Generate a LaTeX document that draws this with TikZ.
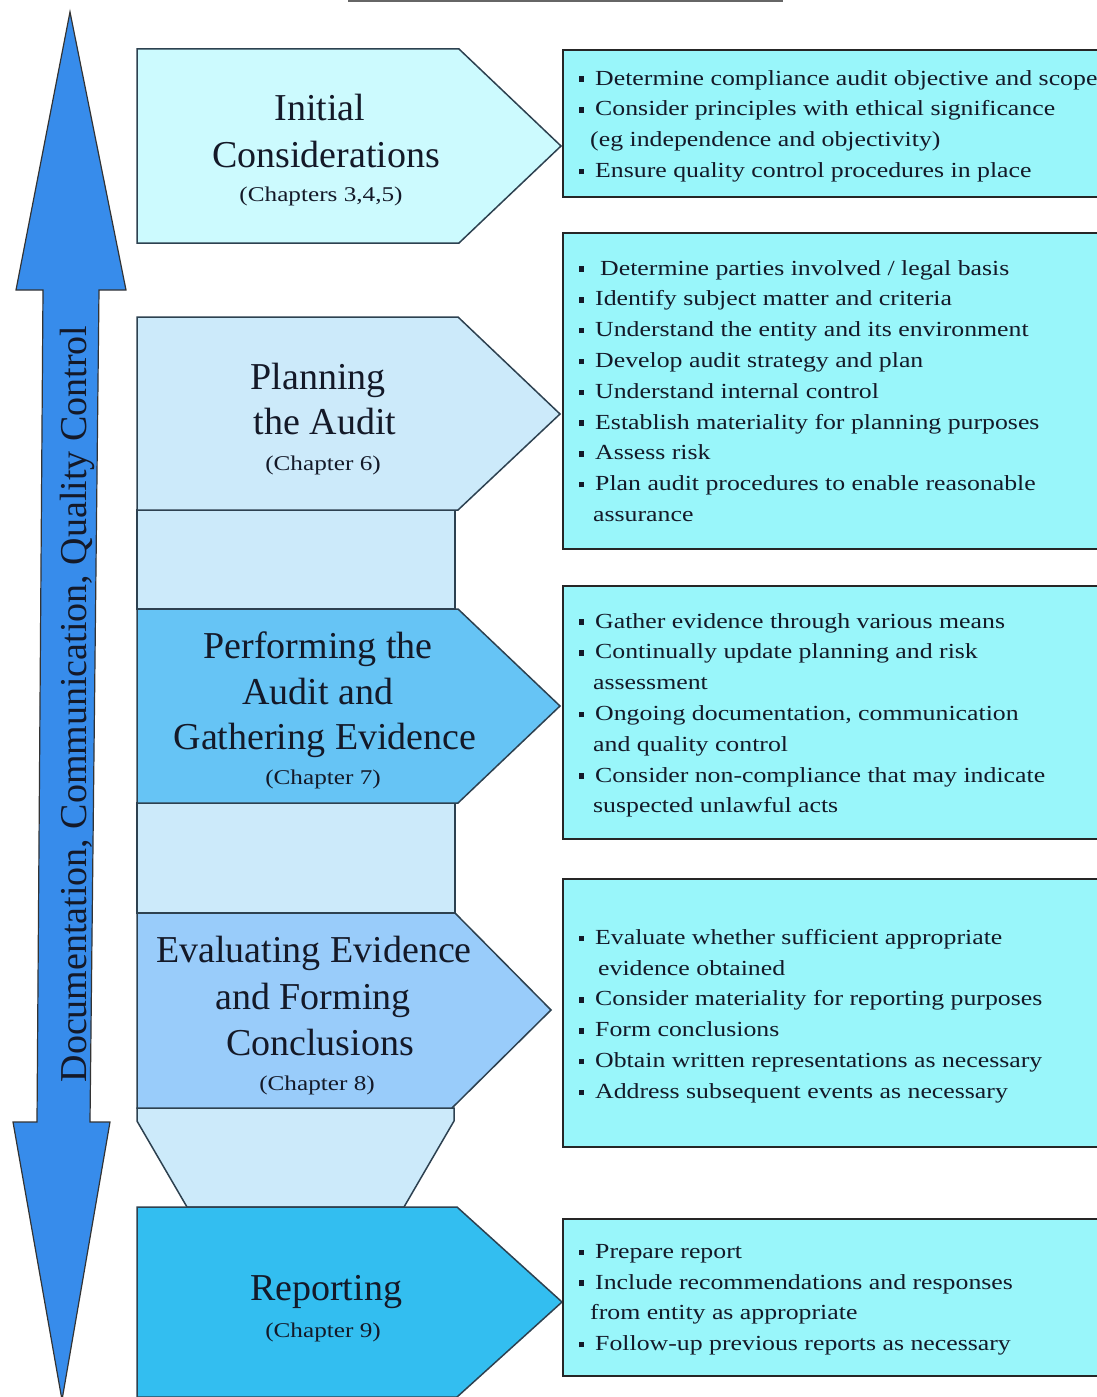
\documentclass[tikz,border=0pt]{standalone}
\usepackage{fontspec}
\setmainfont{Liberation Serif}
\newfontfamily\bodyfont[FakeStretch=1.2]{Liberation Serif}
\usetikzlibrary{calc}
\definecolor{initc}{RGB}{204,250,254}
\definecolor{planc}{RGB}{204,234,250}
\definecolor{perfc}{RGB}{102,196,245}
\definecolor{evalc}{RGB}{153,204,250}
\definecolor{repc}{RGB}{51,190,240}
\definecolor{boxc}{RGB}{153,246,250}
\definecolor{arrc}{RGB}{55,140,235}
\definecolor{edgec}{RGB}{45,65,80}
\definecolor{txtc}{RGB}{20,25,40}
\newcommand\bi{\makebox[18pt][l]{\hspace{2pt}\rule[0.15em]{4.5pt}{5.5pt}}}
\tikzset{
  stage/.style={draw=edgec, line width=1.5pt, line join=miter},
  infobox/.style={draw=black!85, line width=2pt, fill=boxc, rectangle, inner sep=0pt, anchor=north west},
  head/.style={font=\fontsize{38}{47}\selectfont, text=txtc, anchor=base, inner sep=0pt},
  chap/.style={font=\bodyfont\fontsize{21}{25}\selectfont, text=txtc, anchor=base, inner sep=0pt},
  blist/.style={font=\bodyfont\fontsize{21.5}{30.8}\selectfont, text=txtc, align=left, anchor=north west, inner sep=0pt}
}
\begin{document}
\begin{tikzpicture}[x=1pt,y=-1pt]
\useasboundingbox (0,0) rectangle (1097,1397);
\clip (0,0) rectangle (1097,1397);
\fill[white] (0,0) rectangle (1097,1397);
% cut-off title underline
\draw[black!60, line width=3pt] (348,0.5) -- (783,0.5);

% left double arrow
\draw[fill=arrc, draw=black!80, line width=1.2pt, line join=miter]
  (70,12) -- (126,290) -- (99,290) -- (90,1122) -- (110,1122) -- (62,1400)
  -- (13,1122) -- (37,1122) -- (43,290) -- (16,290) -- cycle;
\node[rotate=90, anchor=base, inner sep=0pt, text=txtc, font=\fontsize{38}{40}\selectfont] (side) at (86,704)
  {Documentation, Communication, Quality Control};

% connectors between stages
\draw[stage, fill=planc] (137,510) rectangle (455,609);
\draw[stage, fill=planc] (137,803) rectangle (455,913);
\draw[stage, fill=planc] (137,1108) -- (454,1108) -- (454,1121) -- (404,1207) -- (187,1207) -- (137,1121) -- cycle;

% stages
\draw[stage, fill=initc] (137,49) -- (459,49) -- (561,146) -- (459,243) -- (137,243) -- cycle;
\draw[stage, fill=planc] (137,317) -- (458,317) -- (560,414) -- (458,510) -- (137,510) -- cycle;
\draw[stage, fill=perfc] (137,609) -- (458,609) -- (560,706) -- (458,803) -- (137,803) -- cycle;
\draw[stage, fill=evalc] (137,913) -- (455,913) -- (551,1010) -- (452,1108) -- (137,1108) -- cycle;
\draw[stage, fill=repc] (137,1207) -- (457,1207) -- (562,1302) -- (457,1397) -- (137,1397) -- cycle;

% stage texts
\node[head] (s1a) at (320,120) {Initial};
\node[head] (s1b) at (326,167) {Considerations};
\node[chap] (s1c) at (321,201) {(Chapters 3,4,5)};

\node[head] (s2a) at (318,389) {Planning};
\node[head] (s2b) at (325,434) {the Audit};
\node[chap] (s2c) at (323,470) {(Chapter 6)};

\node[head] (s3a) at (318,658) {Performing the};
\node[head] (s3b) at (318,704) {Audit and};
\node[head] (s3c) at (325,749) {Gathering Evidence};
\node[chap] (s3d) at (323,784) {(Chapter 7)};

\node[head] (s4a) at (314,962) {Evaluating Evidence};
\node[head] (s4b) at (313,1009) {and Forming};
\node[head] (s4c) at (320,1055) {Conclusions};
\node[chap] (s4d) at (317,1090) {(Chapter 8)};

\node[head] (s5a) at (326,1300) {Reporting};
\node[chap] (s5b) at (323,1337) {(Chapter 9)};

% info boxes
\node[infobox, minimum width=560pt, minimum height=147pt] (b1) at (562,49) {};
\node[infobox, minimum width=560pt, minimum height=316pt] (b2) at (562,232) {};
\node[infobox, minimum width=560pt, minimum height=253pt] (b3) at (562,585) {};
\node[infobox, minimum width=560pt, minimum height=268pt] (b4) at (562,878) {};
\node[infobox, minimum width=560pt, minimum height=157pt] (b5) at (562,1218) {};

\node[blist] (t1) at (577,70) {\bi Determine compliance audit objective and scope\\
\bi Consider principles with ethical significance\\
\hspace*{13pt}(eg independence and objectivity)\\
\bi Ensure quality control procedures in place};

\node[blist] (t2) at (577,260) {\bi\hspace{5pt}Determine parties involved / legal basis\\
\bi Identify subject matter and criteria\\
\bi Understand the entity and its environment\\
\bi Develop audit strategy and plan\\
\bi Understand internal control\\
\bi Establish materiality for planning purposes\\
\bi Assess risk\\
\bi Plan audit procedures to enable reasonable\\
\hspace*{16pt}assurance};

\node[blist] (t3) at (577,613) {\bi Gather evidence through various means\\
\bi Continually update planning and risk\\
\hspace*{16pt}assessment\\
\bi Ongoing documentation, communication\\
\hspace*{16pt}and quality control\\
\bi Consider non-compliance that may indicate\\
\hspace*{16pt}suspected unlawful acts};

\node[blist] (t4) at (577,929) {\bi Evaluate whether sufficient appropriate\\
\hspace*{21pt}evidence obtained\\
\bi Consider materiality for reporting purposes\\
\bi Form conclusions\\
\bi Obtain written representations as necessary\\
\bi Address subsequent events as necessary};

\node[blist] (t5) at (577,1244) {\bi Prepare report\\
\bi Include recommendations and responses\\
\hspace*{13pt}from entity as appropriate\\
\bi Follow-up previous reports as necessary};
\end{tikzpicture}
\end{document}
